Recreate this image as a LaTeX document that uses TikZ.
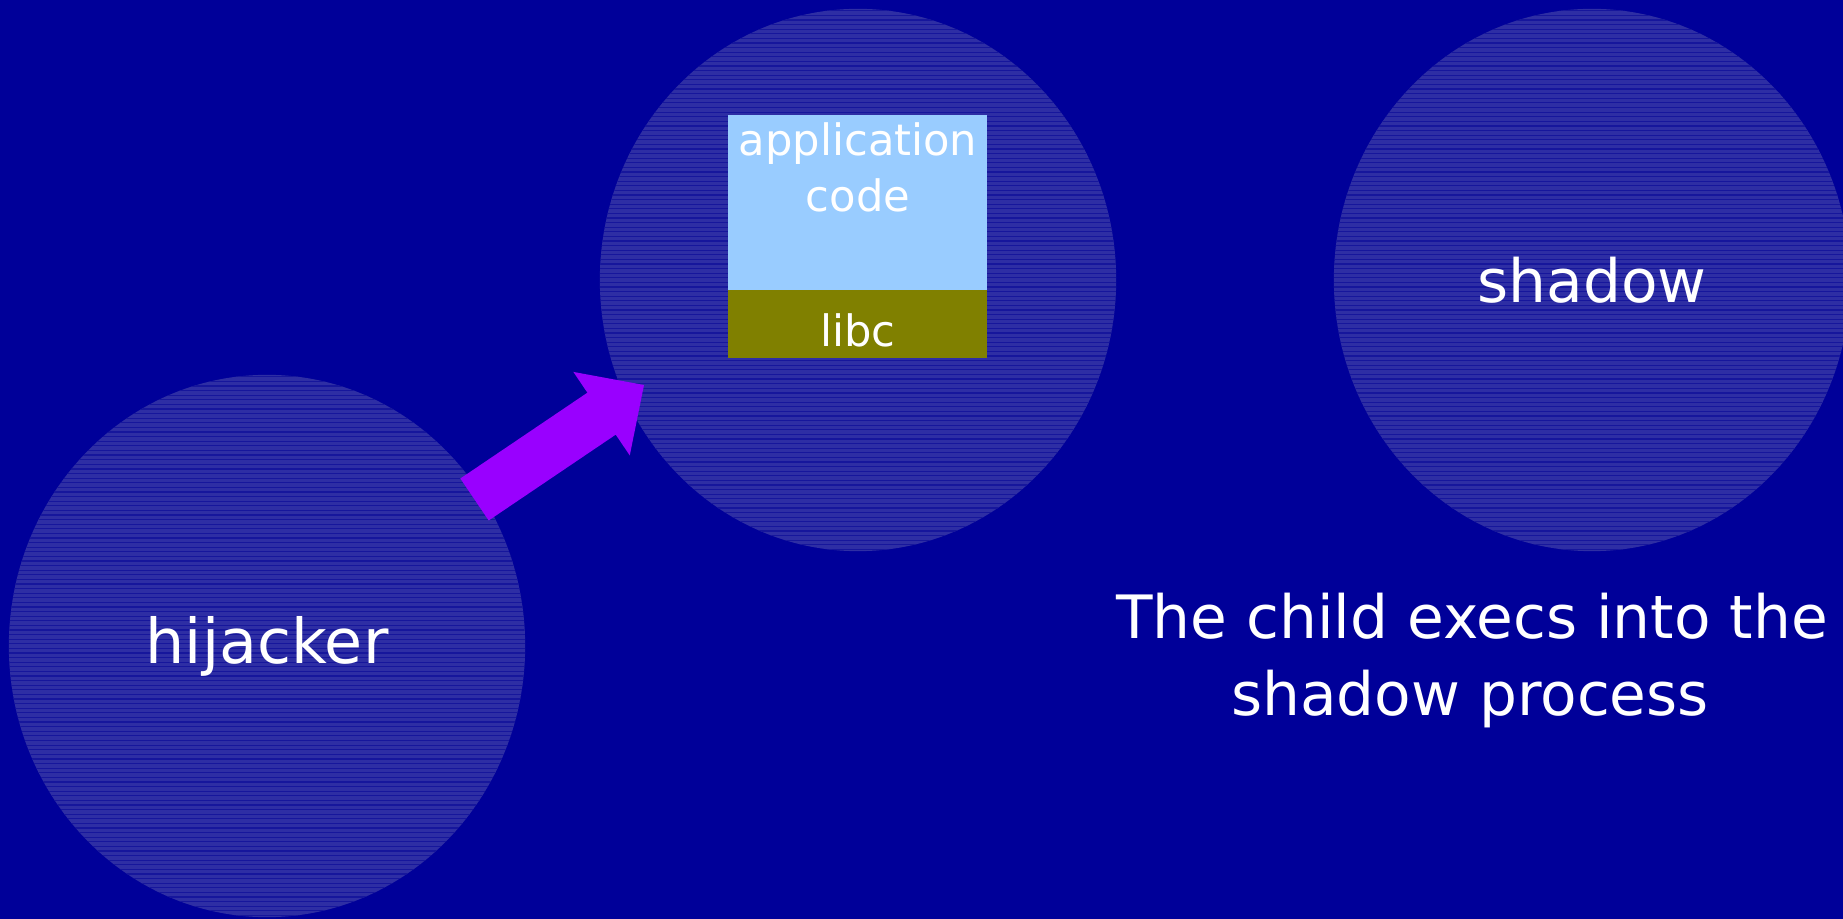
\documentclass[tikz,border=0pt]{standalone}
\usepackage{fontspec}
\setmainfont{DejaVu Sans}
\usetikzlibrary{shapes.geometric,calc}

\definecolor{slidebg}{HTML}{000099}
\definecolor{blobfill}{HTML}{2E2EA4}
\definecolor{blobline}{HTML}{16169C}
\definecolor{appblue}{HTML}{99CCFF}
\definecolor{libcolive}{HTML}{808000}
\definecolor{arrowviolet}{HTML}{9900FF}

\tikzset{
  blob/.style={ellipse, inner sep=0pt, minimum width=5.16cm, minimum height=5.42cm,
    fill=blobfill, text=white, font=\fontsize{17}{20}\selectfont,
    path picture={
      \foreach \k in {0,...,118}{
        \draw[blobline, line width=0.012cm]
          ([yshift=-0.02cm-\k*0.046cm]path picture bounding box.north west) --
          ([yshift=-0.02cm-\k*0.046cm]path picture bounding box.north east);
      }
    }},
  layerbox/.style={rectangle, inner sep=0pt, minimum width=2.59cm},
  boxtext/.style={text=white, inner sep=0pt, font=\fontsize{12.3}{15}\selectfont},
  caption/.style={text=white, inner sep=0pt, font=\fontsize{17}{22}\selectfont},
  bigarrow/.style={fill=arrowviolet}
}

\begin{document}
\begin{tikzpicture}[x=0.01cm, y=-0.01cm]
  % slide background
  \fill[slidebg] (0,0) rectangle (1843,919);
  \useasboundingbox (0,0) rectangle (1843,919);

  % processes
  \node[blob, font=\fontsize{17.6}{20}\selectfont] (hijacker) at (267,646) {hijacker};
  \node[blob] (victim)   at (858,280) {};
  \node[blob] (shadow)   at (1592,280) {shadow};

  % memory layout of the victim process
  \node[layerbox, fill=appblue, minimum height=1.75cm] (app) at (857.5,202.5) {};
  \node[layerbox, fill=libcolive, minimum height=0.68cm] (libc) at (857.5,324) {};
  \node[boxtext, anchor=base] (applabel) at (858,156) {application};
  \node[boxtext, anchor=base] (codelabel) at (858,212) {code};
  \node[boxtext, anchor=base] (libclabel) at (858,347) {libc};

  % block arrow from the hijacker into the victim
  \coordinate (arrtail) at (474.5,499.5);
  \coordinate (arrtip) at (644,385);
  \coordinate (arrhead) at ($(arrtail)!0.7496!(arrtip)$);
  \fill[bigarrow]
    ($(arrtail)!0.253cm!90:(arrtip)$) --
    ($(arrhead)!0.253cm!-90:(arrtail)$) --
    ($(arrhead)!0.5035cm!-90:(arrtail)$) --
    (arrtip) --
    ($(arrhead)!0.5035cm!90:(arrtail)$) --
    ($(arrhead)!0.253cm!90:(arrtail)$) --
    ($(arrtail)!0.253cm!-90:(arrtip)$) -- cycle;

  % caption
  \node[caption, anchor=base] (line1) at (1472,639) {The child execs into the};
  \node[caption, anchor=base] (line2) at (1470,715) {shadow process};
\end{tikzpicture}
\end{document}
